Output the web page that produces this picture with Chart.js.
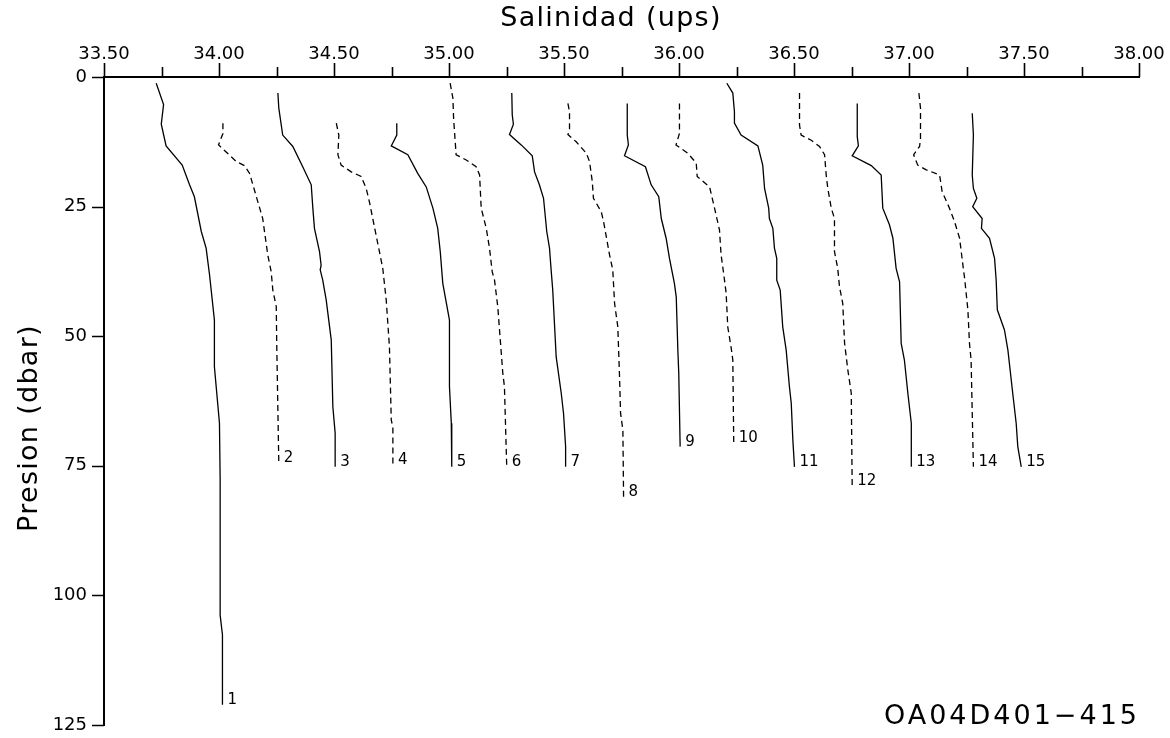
<!DOCTYPE html>
<html>
<head>
<meta charset="utf-8">
<script src="https://cdn.jsdelivr.net/npm/chart.js@4.4.1/dist/chart.umd.min.js"></script>
<style>
  html, body { margin: 0; padding: 0; background: #fff; }
  canvas { display: block; }
</style>
</head>
<body>
<canvas id="chart" width="1170" height="738"></canvas>
<script>
// Salinity profiles (plotted salinity, ups) and their pressures (dbar), stations 1-15
const salinity1 = [33.727,33.759,33.749,33.770,33.840,33.872,33.893,33.923,33.944,33.959,33.980,33.980,34.002,34.005,34.005,34.015,34.015];
const pressure1 = [1.2,5.3,9.1,13.3,17.0,20.8,23.1,29.8,33.0,38.2,46.9,55.9,66.8,77.7,103.8,107.6,121.1];

const salinity2 = [34.017,34.017,33.998,34.075,34.111,34.133,34.154,34.190,34.212,34.227,34.234,34.249,34.251,34.256,34.260];
const pressure2 = [8.9,10.9,13.1,16.3,17.1,18.6,21.8,27.3,34.3,37.6,41.1,44.3,51.4,64.2,74.5];

const salinity3 = [34.256,34.260,34.277,34.321,34.364,34.401,34.408,34.415,34.437,34.444,34.440,34.451,34.466,34.488,34.495,34.505,34.505];
const pressure3 = [3.1,6.0,11.2,13.4,17.3,20.8,25.3,29.2,33.7,36.3,37.2,39.2,43.0,50.7,63.6,68.7,75.2];

const salinity4 = [34.510,34.521,34.517,34.531,34.575,34.618,34.640,34.654,34.683,34.712,34.727,34.741,34.749,34.756,34.756];
const pressure4 = [8.9,11.2,15.0,17.0,18.3,19.2,21.5,24.1,30.5,36.9,43.0,52.0,66.2,67.5,74.8];

const salinity5 = [34.773,34.773,34.749,34.821,34.864,34.901,34.930,34.951,34.962,34.973,35.002,35.002,35.010,35.012];
const pressure5 = [8.9,11.2,13.3,15.0,18.6,21.2,25.3,29.2,33.7,39.8,46.9,59.7,66.8,75.2];

const salinity6 = [35.005,35.017,35.020,35.031,35.075,35.118,35.133,35.140,35.162,35.176,35.188,35.198,35.212,35.234,35.241,35.251];
const pressure6 = [1.2,4.1,8.0,15.0,16.0,17.3,18.9,25.3,29.2,33.0,37.6,39.2,44.3,57.2,59.7,75.2];

const salinity7 = [35.273,35.275,35.280,35.263,35.314,35.362,35.372,35.393,35.411,35.425,35.437,35.444,35.451,35.466,35.488,35.498,35.507,35.507];
const pressure7 = [3.1,7.3,9.1,11.1,13.1,15.2,18.3,20.8,23.4,29.8,33.0,37.2,41.1,54.0,61.0,64.9,71.3,75.2];

const salinity8 = [35.517,35.524,35.524,35.517,35.553,35.597,35.611,35.623,35.628,35.662,35.672,35.698,35.712,35.720,35.734,35.741,35.746,35.756,35.759];
const pressure8 = [5.1,6.7,10.2,11.1,12.5,14.7,16.3,20.2,23.4,26.0,27.9,34.3,37.2,43.7,48.2,57.2,64.9,68.1,81.0];

const salinity9 = [35.775,35.775,35.780,35.763,35.854,35.879,35.912,35.923,35.944,35.959,35.980,35.988,35.995,35.999,36.005];
const pressure9 = [5.1,11.2,13.1,15.2,17.3,20.8,23.1,27.3,31.1,35.1,39.8,42.4,52.7,57.2,71.3];

const salinity10 = [36.002,36.002,35.987,36.038,36.075,36.079,36.133,36.154,36.176,36.183,36.195,36.205,36.212,36.227,36.234,36.238];
const pressure10 = [5.1,10.9,13.1,14.7,16.6,19.2,21.2,25.2,29.5,34.3,38.2,41.7,48.2,52.3,54.6,70.7];

const salinity11 = [36.208,36.234,36.241,36.241,36.270,36.343,36.364,36.372,36.390,36.393,36.408,36.415,36.425,36.425,36.440,36.451,36.466,36.480,36.488,36.495,36.502];
const pressure11 = [1.2,3.1,6.7,8.9,11.2,13.3,17.0,21.5,25.3,27.3,29.2,33.0,35.0,39.2,41.1,48.2,52.7,59.7,62.9,70.0,75.2];

const salinity12 = [36.524,36.524,36.531,36.575,36.611,36.633,36.640,36.647,36.662,36.676,36.676,36.690,36.698,36.712,36.720,36.734,36.749,36.753];
const pressure12 = [3.1,9.3,11.2,12.2,13.4,15.0,18.9,21.5,25.3,27.3,33.7,36.9,40.5,43.7,51.4,56.5,61.0,79.0];

const salinity13 = [36.775,36.775,36.780,36.753,36.836,36.879,36.886,36.915,36.930,36.944,36.959,36.966,36.980,36.995,37.010,37.010];
const pressure13 = [5.1,11.5,13.3,15.2,17.1,18.9,25.3,28.5,31.1,36.9,39.5,51.4,54.6,61.0,66.8,75.2];

const salinity14 = [37.043,37.050,37.050,37.046,37.020,37.038,37.075,37.133,37.144,37.176,37.198,37.220,37.238,37.241,37.256,37.263,37.270,37.280];
const pressure14 = [3.1,6.0,11.8,13.4,15.0,17.0,17.9,18.9,22.1,25.3,27.9,31.1,37.6,38.5,44.9,51.4,54.6,75.2];

const salinity15 = [37.275,37.280,37.275,37.280,37.295,37.277,37.318,37.315,37.350,37.372,37.379,37.384,37.415,37.430,37.451,37.466,37.473,37.488];
const pressure15 = [7.0,11.2,18.9,21.5,23.4,25.0,27.3,29.2,31.1,35.0,39.2,44.9,48.8,52.7,61.0,66.8,71.3,75.2];

const stationLabels = ['1','2','3','4','5','6','7','8','9','10','11','12','13','14','15'];

// Axis ticks and texts
const xTickValues = [33.5,34.0,34.5,35.0,35.5,36.0,36.5,37.0,37.5,38.0];
const xTickLabels = ['33.50','34.00','34.50','35.00','35.50','36.00','36.50','37.00','37.50','38.00'];
const xMinorTicks = [33.75,34.25,34.75,35.25,35.75,36.25,36.75,37.25,37.75];
const yTickValues = [0,25,50,75,100,125];
const yTickLabels = ['0','25','50','75','100','125'];
const xTitle = 'Salinidad (ups)';
const yTitle = 'Presion (dbar)';
const cruiseTag = 'OA04D401\u2212415';

const FONT = "'DejaVu Sans', sans-serif";

const salinitySets = [salinity1,salinity2,salinity3,salinity4,salinity5,salinity6,salinity7,salinity8,salinity9,salinity10,salinity11,salinity12,salinity13,salinity14,salinity15];
const pressureSets = [pressure1,pressure2,pressure3,pressure4,pressure5,pressure6,pressure7,pressure8,pressure9,pressure10,pressure11,pressure12,pressure13,pressure14,pressure15];

const datasets = salinitySets.map((sal, k) => ({
  label: stationLabels[k],
  data: sal.map((s, i) => ({ x: s, y: pressureSets[k][i] })),
  showLine: true,
  borderColor: '#000',
  borderWidth: 1.3,
  borderDash: (k % 2 === 1) ? [6, 4] : [],
  pointRadius: 0,
  tension: 0,
  fill: false
}));

function labelFor(values, labels, v) {
  const i = values.findIndex(t => Math.abs(t - v) < 1e-6);
  return i < 0 ? '' : labels[i];
}

// fixed axis box sizes; end labels may overhang the plot frame
function fixBox(size, horizontal) {
  return s => {
    if (horizontal) s.height = size; else s.width = size;
    s.paddingTop = 0; s.paddingBottom = 0; s.paddingLeft = 0; s.paddingRight = 0;
  };
}

// Tick marks, axis titles, station numbers and cruise tag
const decorations = {
  id: 'decorations',
  afterDraw(chart) {
    const { ctx, chartArea: a, scales: { x, y } } = chart;
    ctx.save();
    ctx.strokeStyle = '#000';
    ctx.fillStyle = '#000';
    ctx.lineWidth = 1.6;
    ctx.setLineDash([]);
    ctx.beginPath();
    xTickValues.forEach(v => {
      const px = Math.round(x.getPixelForValue(v)) + 0.5;
      ctx.moveTo(px, a.top); ctx.lineTo(px, a.top - 14);
    });
    xMinorTicks.forEach(v => {
      const px = Math.round(x.getPixelForValue(v)) + 0.5;
      ctx.moveTo(px, a.top); ctx.lineTo(px, a.top - 10);
    });
    yTickValues.forEach(v => {
      const py = Math.round(y.getPixelForValue(v)) + 0.5;
      ctx.moveTo(a.left, py); ctx.lineTo(a.left - 12, py);
    });
    ctx.stroke();

    // station numbers at the bottom of each profile
    ctx.font = '15px ' + FONT;
    ctx.textAlign = 'left';
    ctx.textBaseline = 'middle';
    salinitySets.forEach((sal, k) => {
      const n = sal.length - 1;
      const px = x.getPixelForValue(sal[n]);
      const py = y.getPixelForValue(pressureSets[k][n]);
      ctx.fillText(stationLabels[k], px + 5, py - 5);
    });

    // axis titles
    ctx.font = '27px ' + FONT;
    ctx.letterSpacing = '1.3px';
    ctx.textAlign = 'center';
    ctx.textBaseline = 'middle';
    ctx.fillText(xTitle, 611, 19);
    ctx.save();
    ctx.translate(30, 428);
    ctx.rotate(-Math.PI / 2);
    ctx.fillText(yTitle, 0, 0);
    ctx.restore();

    ctx.letterSpacing = '3px';
    ctx.textAlign = 'right';
    ctx.fillText(cruiseTag, 1140, 717);
    ctx.restore();
  }
};

new Chart(document.getElementById('chart'), {
  type: 'scatter',
  data: { datasets },
  options: {
    responsive: false,
    animation: false,
    layout: { padding: { top: 0, left: 0, right: 31, bottom: 13 } },
    plugins: { legend: { display: false }, tooltip: { enabled: false } },
    scales: {
      x: {
        type: 'linear',
        position: 'top',
        min: 33.5,
        max: 38,
        afterFit: fixBox(77, true),
        grid: { display: false, drawTicks: false },
        border: { display: true, color: '#000', width: 2 },
        ticks: {
          stepSize: 0.5,
          autoSkip: false,
          maxRotation: 0,
          padding: 12,
          color: '#000',
          font: { family: FONT, size: 18 },
          callback: v => labelFor(xTickValues, xTickLabels, v)
        }
      },
      y: {
        type: 'linear',
        reverse: true,
        min: 0,
        max: 125,
        afterFit: fixBox(104, false),
        grid: { display: false, drawTicks: false },
        border: { display: true, color: '#000', width: 2 },
        ticks: {
          stepSize: 25,
          autoSkip: false,
          padding: 17,
          color: '#000',
          font: { family: FONT, size: 18 },
          callback: v => labelFor(yTickValues, yTickLabels, v)
        }
      }
    }
  },
  plugins: [decorations]
});
</script>
</body>
</html>
